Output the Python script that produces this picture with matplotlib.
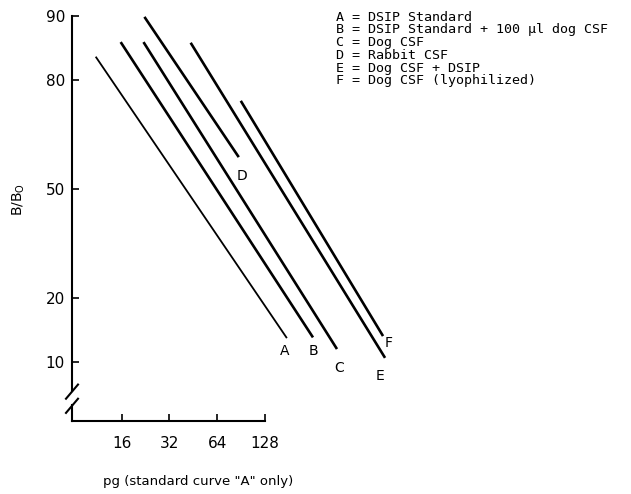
import numpy as np
import matplotlib
matplotlib.use("Agg")
import matplotlib.pyplot as plt
from matplotlib.ticker import FixedLocator, FixedFormatter, NullLocator

# each standard curve is a straight line in log(pg) vs logit(B/B0)
curve_names = ['A', 'B', 'C', 'D', 'E', 'F']
x_start = [11.0, 15.8, 22.0, 22.3, 43.6, 90.2]
x_end = [176, 257, 364, 87.6, 731, 710]
y_start = [84.3, 86.6, 86.6, 89.9, 86.5, 75.4]
y_end = [13.1, 13.2, 11.6, 60.0, 10.5, 13.4]

# where the letters sit next to the lines
label_x = [171, 257, 374, 91.5, 680, 774]
label_y = [11.3, 11.3, 9.3, 54.1, 8.5, 12.4]

legend_lines = [
    'A = DSIP Standard',
    'B = DSIP Standard + 100 \u00b5l dog CSF',
    'C = Dog CSF',
    'D = Rabbit CSF',
    'E = Dog CSF + DSIP',
    'F = Dog CSF (lyophilized)',
]

y_ticks = [10, 20, 50, 80, 90]
x_ticks = [16, 32, 64, 128]


def logit(p):
    p = np.clip(np.asarray(p, dtype=float), 1e-6, 100 - 1e-6)
    return np.log(p / (100 - p))


def inv_logit(z):
    return 100 / (1 + np.exp(-np.asarray(z, dtype=float)))


plt.rcParams['font.family'] = ['DejaVu Sans']

fig = plt.figure(figsize=(6.31, 4.94), dpi=100)
ax = fig.add_axes([72/631, 1 - 421/494, 328/631, 405/494])

ax.set_xscale('log', base=2)
ax.set_yscale('function', functions=(logit, inv_logit))
ax.set_xlim(7.8, 908)
ax.set_ylim(5, 90)

for i in range(len(curve_names)):
    lw = 1.3 if curve_names[i] == 'A' else 1.9
    ax.plot([x_start[i], x_end[i]], [y_start[i], y_end[i]], color='black',
            lw=lw, solid_capstyle='butt', clip_on=False)
    ax.text(label_x[i], label_y[i], curve_names[i], ha='center', va='center',
            fontsize=10, clip_on=False)

ax.xaxis.set_major_locator(FixedLocator(x_ticks))
ax.xaxis.set_major_formatter(FixedFormatter([str(t) for t in x_ticks]))
ax.xaxis.set_minor_locator(NullLocator())
ax.yaxis.set_major_locator(FixedLocator(y_ticks))
ax.yaxis.set_major_formatter(FixedFormatter([str(t) for t in y_ticks]))
ax.yaxis.set_minor_locator(NullLocator())

ax.tick_params(axis='both', direction='in', length=5, width=1.2, labelsize=11)
ax.tick_params(axis='x', pad=11)
ax.tick_params(axis='y', pad=5)

for s in ['top', 'right', 'left']:
    ax.spines[s].set_visible(False)
ax.spines['bottom'].set_bounds(7.8, 128)
ax.spines['bottom'].set_linewidth(1.5)

# broken y axis
kw = dict(transform=ax.transAxes, color='black', lw=1.5, clip_on=False)
ax.plot([0, 0], [0, 0.04], **kw)
ax.plot([0, 0], [0.075, 1.0], **kw)
dx = 6 / 328
ax.plot([-dx, dx], [0.02, 0.055], **kw)
ax.plot([-dx, dx], [0.055, 0.09], **kw)

for i, line in enumerate(legend_lines):
    fig.text(336/631, 1 - (17.3 + 12.7*i)/494, line, ha='left', va='center',
             fontsize=9.6, family='DejaVu Sans Mono')

fig.text(19/631, 1 - 200/494, 'B/B$_{\\mathrm{O}}$', rotation=90,
         ha='center', va='center', fontsize=10)
fig.text(198/631, 1 - 481/494, 'pg (standard curve "A" only)',
         ha='center', va='center', fontsize=9.5)

fig.savefig('out.png', dpi=100)
